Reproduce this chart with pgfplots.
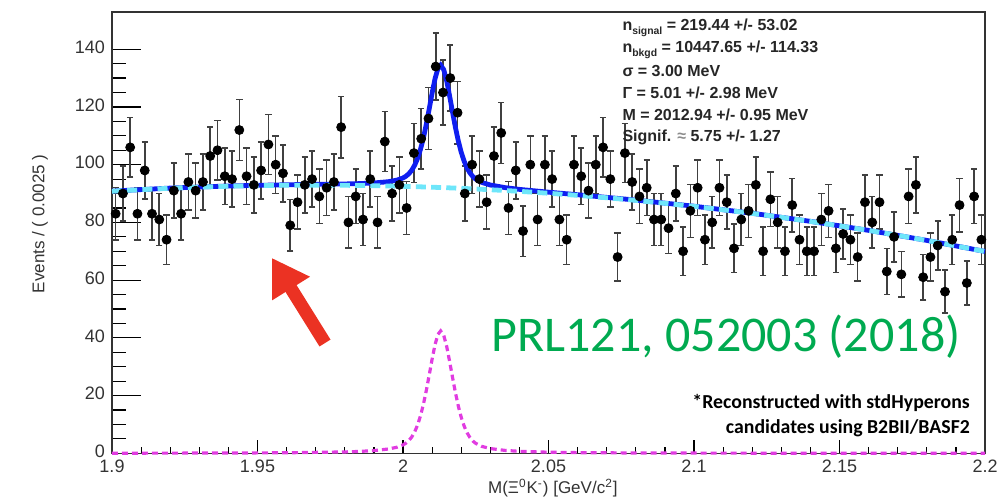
\documentclass[border=0pt]{standalone}
\usepackage{pgfplots}
\pgfplotsset{compat=1.18}
\usepackage{pgfplotstable}
\usepackage{fontspec}
\setmainfont{Liberation Sans}
\newfontfamily\calibri{Carlito}
\usetikzlibrary{arrows.meta}

\definecolor{fitblue}{RGB}{15,30,240}
\definecolor{bkgcyan}{RGB}{110,230,250}
\definecolor{sigmag}{RGB}{225,60,225}
\definecolor{prlgreen}{RGB}{0,170,80}
\definecolor{arrowred}{RGB}{235,50,35}

% events per 2.5 MeV bin, bin centres
\pgfplotstableread{
x n
1.90125 83
1.90375 90
1.90625 106
1.90875 83
1.91125 98
1.91375 83
1.91625 81
1.91875 74
1.92125 91
1.92375 83
1.92625 94
1.92875 91
1.93125 94
1.93375 103
1.93625 105
1.93875 96
1.94125 95
1.94375 112
1.94625 96
1.94875 93
1.95125 98
1.95375 107
1.95625 100
1.95875 97
1.96125 79
1.96375 87
1.96625 93
1.96875 95
1.97125 89
1.97375 92
1.97625 94
1.97875 113
1.98125 80
1.98375 89
1.98625 81
1.98875 95
1.99125 80
1.99375 108
1.99625 90
1.99875 93
2.00125 85
2.00375 104
2.00625 109
2.00875 116
2.01125 134
2.01375 125
2.01625 130
2.01875 118
2.02125 90
2.02375 100
2.02625 95
2.02875 87
2.03125 103
2.03375 111
2.03625 85
2.03875 98
2.04125 77
2.04375 100
2.04625 81
2.04875 100
2.05125 95
2.05375 81
2.05625 74
2.05875 100
2.06125 96
2.06375 91
2.06625 100
2.06875 106
2.07125 95
2.07375 68
2.07625 104
2.07875 94
2.08125 89
2.08375 92
2.08625 81
2.08875 81
2.09125 78
2.09375 90
2.09625 70
2.09875 84
2.10125 92
2.10375 74
2.10625 80
2.10875 92
2.11125 87
2.11375 71
2.11625 81
2.11875 84
2.12125 93
2.12375 70
2.12625 88
2.12875 80
2.13125 70
2.13375 86
2.13625 74
2.13875 70
2.14125 70
2.14375 81
2.14625 84
2.14875 71
2.15125 76
2.15375 74
2.15625 68
2.15875 87
2.16125 80
2.16375 87
2.16625 63
2.16875 75
2.17125 62
2.17375 89
2.17625 93
2.17875 61
2.18125 68
2.18375 72
2.18625 56
2.18875 74
2.19125 86
2.19375 59
2.19625 89
2.19875 74
}\datatable

% background polynomial
\pgfplotstableread{
x y
1.90 90.80
1.92 91.83
1.94 92.52
1.96 92.86
1.98 92.85
2.00 92.50
2.02 91.80
2.04 90.76
2.06 89.36
2.08 87.63
2.10 85.54
2.12 83.11
2.14 80.33
2.16 77.21
2.18 73.74
2.20 69.92
}\bkgtable

% signal (Voigtian) component
\pgfplotstableread{
x y
1.90 0.04
1.92 0.06
1.94 0.10
1.96 0.18
1.98 0.47
1.985 0.64
1.99 0.94
1.995 1.49
1.998 2.12
2.000 2.90
2.001 3.52
2.002 4.39
2.003 5.64
2.004 7.39
2.005 9.78
2.006 12.94
2.007 16.93
2.008 21.71
2.009 27.07
2.010 32.60
2.011 37.62
2.012 41.19
2.01294 42.40
2.014 40.87
2.015 37.08
2.016 31.95
2.017 26.41
2.018 21.09
2.019 16.41
2.020 12.52
2.021 9.46
2.022 7.15
2.023 5.47
2.024 4.27
2.025 3.43
2.027 2.41
2.030 1.64
2.035 1.01
2.040 0.68
2.050 0.37
2.060 0.23
2.080 0.11
2.100 0.07
2.120 0.05
2.140 0.04
2.160 0.03
2.180 0.02
2.200 0.02
}\sigtable

% total fit: signal + background
\pgfplotstableread{
x y
1.90 90.84
1.92 91.89
1.94 92.62
1.96 93.04
1.98 93.32
1.985 93.44
1.99 93.66
1.995 94.11
1.998 94.67
2.000 95.40
2.001 95.99
2.002 96.84
2.003 98.06
2.004 99.78
2.005 102.14
2.006 105.27
2.007 109.22
2.008 113.97
2.009 119.29
2.010 124.79
2.011 129.77
2.012 133.30
2.01294 134.48
2.014 132.92
2.015 129.09
2.016 123.92
2.017 118.34
2.018 112.98
2.019 108.25
2.020 104.32
2.021 101.22
2.022 98.86
2.023 97.14
2.024 95.89
2.025 95.00
2.027 93.88
2.030 92.96
2.035 92.06
2.040 91.44
2.050 90.47
2.060 89.59
2.080 87.74
2.100 85.61
2.120 83.16
2.140 80.37
2.160 77.24
2.180 73.76
2.200 69.94
}\tottable

\pgfplotsset{
  frame/.style={
    scale only axis,
    width=436.5pt, height=220.65pt,
    xmin=1.9, xmax=2.2, ymin=0, ymax=152.9,
    tick align=inside,
    tick style={line width=0.6pt, black},
    ticklabel style={font=\fontsize{9}{10}\selectfont, text=black!80},
  },
}

\begin{document}
\begin{tikzpicture}
\path[use as bounding box] (-56pt,-21.85pt) rectangle (443.5pt,226.65pt);

% mass axis: short ticks and their labels
\begin{axis}[
  frame,
  axis line style={draw=none},
  xtick={1.9,1.95,2,2.05,2.1,2.15,2.2},
  xticklabels={1.9,1.95,2,2.05,2.1,2.15,2.2},
  minor x tick num=4,
  ytick=\empty,
  xtick pos=bottom,
  major tick length=6.5pt, minor tick length=3.2pt,
]
\end{axis}

\begin{axis}[
  frame,
  clip=false,
  axis line style={line width=0.6pt, black!80},
  xtick=\empty,
  ytick={0,20,40,60,80,100,120,140},
  minor y tick num=3,
  ytick pos=left,
  major tick length=14.5pt, minor tick length=7pt,
  yticklabel style={yshift=1pt},
  /pgf/number format/assume math mode=true,
  xlabel={M(Ξ\textsuperscript{0}K\textsuperscript{-}) [GeV/c\textsuperscript{2}]},
  ylabel={Events / ( 0.0025 )},
  xlabel style={font=\fontsize{8.5}{10}\selectfont, text=black!80, at={(axis description cs:0.505,-0.079)}, anchor=center},
  ylabel style={font=\fontsize{8.5}{10}\selectfont, text=black!80, at={(axis description cs:-0.0825,0.52)}, anchor=center, rotate=0},
]

% data with Poisson errors
\addplot[only marks, mark=*, mark size=2.25pt, black,
  error bars/.cd, y dir=both, y explicit,
  error bar style={line width=0.8pt, black!75},
  error mark options={rotate=90, mark size=1.6pt, line width=0.8pt, black!75}]
  table[x=x, y=n, y error expr=sqrt(\thisrow{n})] {\datatable};

% total fit and background
\addplot[fitblue, line width=2.4pt, no markers] table {\tottable};
\addplot[bkgcyan, line width=2.4pt, no markers, smooth, dash pattern=on 5pt off 2.6pt] table {\bkgtable};

% signal component
\addplot[sigmag, line width=1.6pt, no markers, dash pattern=on 3pt off 2pt] table {\sigtable};

% fit parameters
\begin{scope}[every node/.style={anchor=west, inner sep=0pt, font=\bfseries\fontsize{8}{9}\selectfont, text=black!85}]
\node at (axis cs:2.0753,147.4) {n\raisebox{-0.45ex}{\fontsize{5.2}{6}\selectfont signal} = 219.44 +/- 53.02};
\node at (axis cs:2.0753,139.7) {n\raisebox{-0.45ex}{\fontsize{5.2}{6}\selectfont bkgd} = 10447.65 +/- 114.33};
\node at (axis cs:2.0753,132.3) {σ = 3.00 MeV};
\node at (axis cs:2.0753,124.8) {Γ = 5.01 +/- 2.98 MeV};
\node at (axis cs:2.0753,117.2) {M = 2012.94 +/- 0.95 MeV};
\node at (axis cs:2.0753,109.6) {Signif. {\color{black!45}≈} 5.75 +/- 1.27};
\end{scope}

% annotations
\draw[arrowred, line width=6.5pt, -{Triangle[length=18pt, width=21pt]}]
  (axis cs:1.9732,38.2) -- (axis cs:1.95498,67.67);
\node[prlgreen, font=\calibri\fontsize{25}{30}\selectfont, anchor=center] at (axis cs:2.111,40.3) {PRL121, 052003 (2018)};
\node[anchor=east, inner sep=0pt, font=\calibri\bfseries\fontsize{9.9}{12}\selectfont] at (axis cs:2.1949,17.6) {*Reconstructed with stdHyperons};
\node[anchor=east, inner sep=0pt, font=\calibri\bfseries\fontsize{9.9}{12}\selectfont] at (axis cs:2.1949,8.6) {candidates using B2BII/BASF2};
\end{axis}
\end{tikzpicture}
\end{document}
